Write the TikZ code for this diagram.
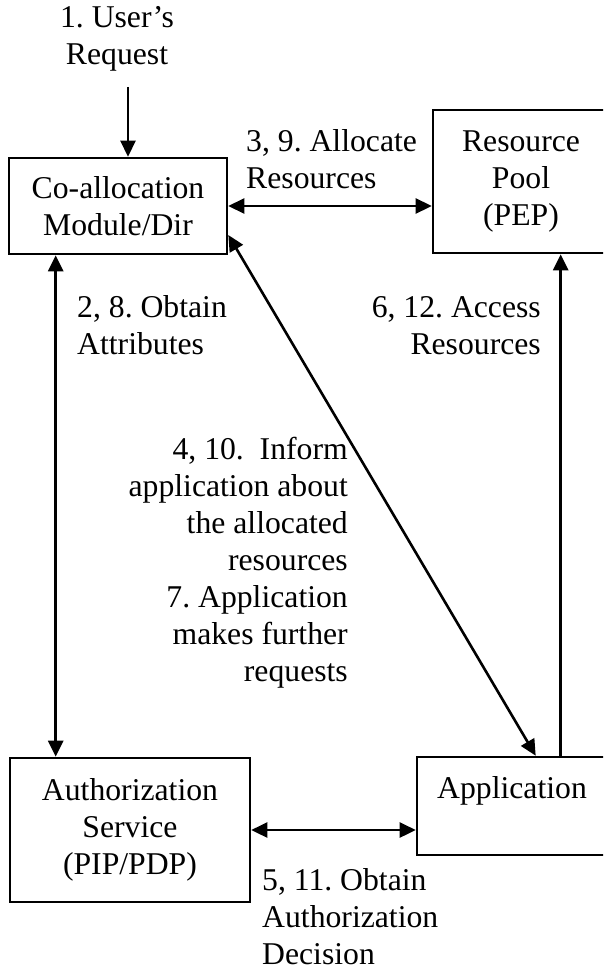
\documentclass[tikz,border=0pt]{standalone}
\usepackage{fontspec}
\setmainfont{Liberation Serif}
\usetikzlibrary{arrows.meta}
\begin{document}
\frenchspacing
\begin{tikzpicture}[x=1pt,y=-1pt,
  font=\fontsize{31.7}{37}\selectfont\frenchspacing,
  box/.style={draw, line width=2.6pt, inner sep=0pt, align=center},
  lbl/.style={inner sep=0pt},
  tip/.tip={Triangle[length=16pt,width=15pt]},
  conn/.style={line width=2.6pt},
  both/.style={conn, tip-tip},
  one/.style={conn, -tip}]
\useasboundingbox (0,0) rectangle (603,971);
\clip (0,0) rectangle (603,971);
% boxes
\node[box, minimum width=218pt, minimum height=96pt] (coalloc) at (118,206) {Co-allocation\\Module/Dir};
\node[box, minimum width=176pt, minimum height=143pt] (pool) at (521,181.5) {Resource\\Pool\\(PEP)};
\node[box, minimum width=240pt, minimum height=144pt] (auth) at (130,830) {Authorization\\Service\\(PIP/PDP)};
\node[box, minimum width=190pt, minimum height=98pt] (app) at (512,806) {Application\\\mbox{}};
% labels (base anchor = baseline of the last line)
\node[lbl, anchor=base, align=center] (lreq) at (117,65) {1. User’s\\Request};
\node[lbl, anchor=base west, align=left] (lalloc) at (246,188) {3, 9. Allocate\\Resources};
\node[lbl, anchor=base west, align=left] (lattr) at (77,354) {2, 8. Obtain\\Attributes};
\node[lbl, anchor=base east, align=right] (laccess) at (541,354) {6, 12. Access\\Resources};
\node[lbl, anchor=base east, align=right] (linform) at (348,681) {4, 10.\ \ Inform\\application about\\the allocated\\resources\\7. Application\\makes further\\requests};
\node[lbl, anchor=base west, align=left] (ldec) at (262,964) {5, 11. Obtain\\Authorization\\Decision};
% connectors
\coordinate (req) at (128,87);
\draw[one] (req) -- (req |- coalloc.north);
\draw[both] (coalloc.east) -- (coalloc.east -| pool.west);
\draw[both] ([xshift=48pt]coalloc.south west) -- ([xshift=48pt]coalloc.south west |- auth.north);
\draw[both] ([yshift=-29pt]coalloc.east) -- ([xshift=120pt]app.north west);
\draw[one] ([xshift=145pt]app.north west) -- ([xshift=145pt]app.north west |- pool.south);
\draw[both] (auth.east) -- (auth.east -| app.west);
\end{tikzpicture}
\end{document}
